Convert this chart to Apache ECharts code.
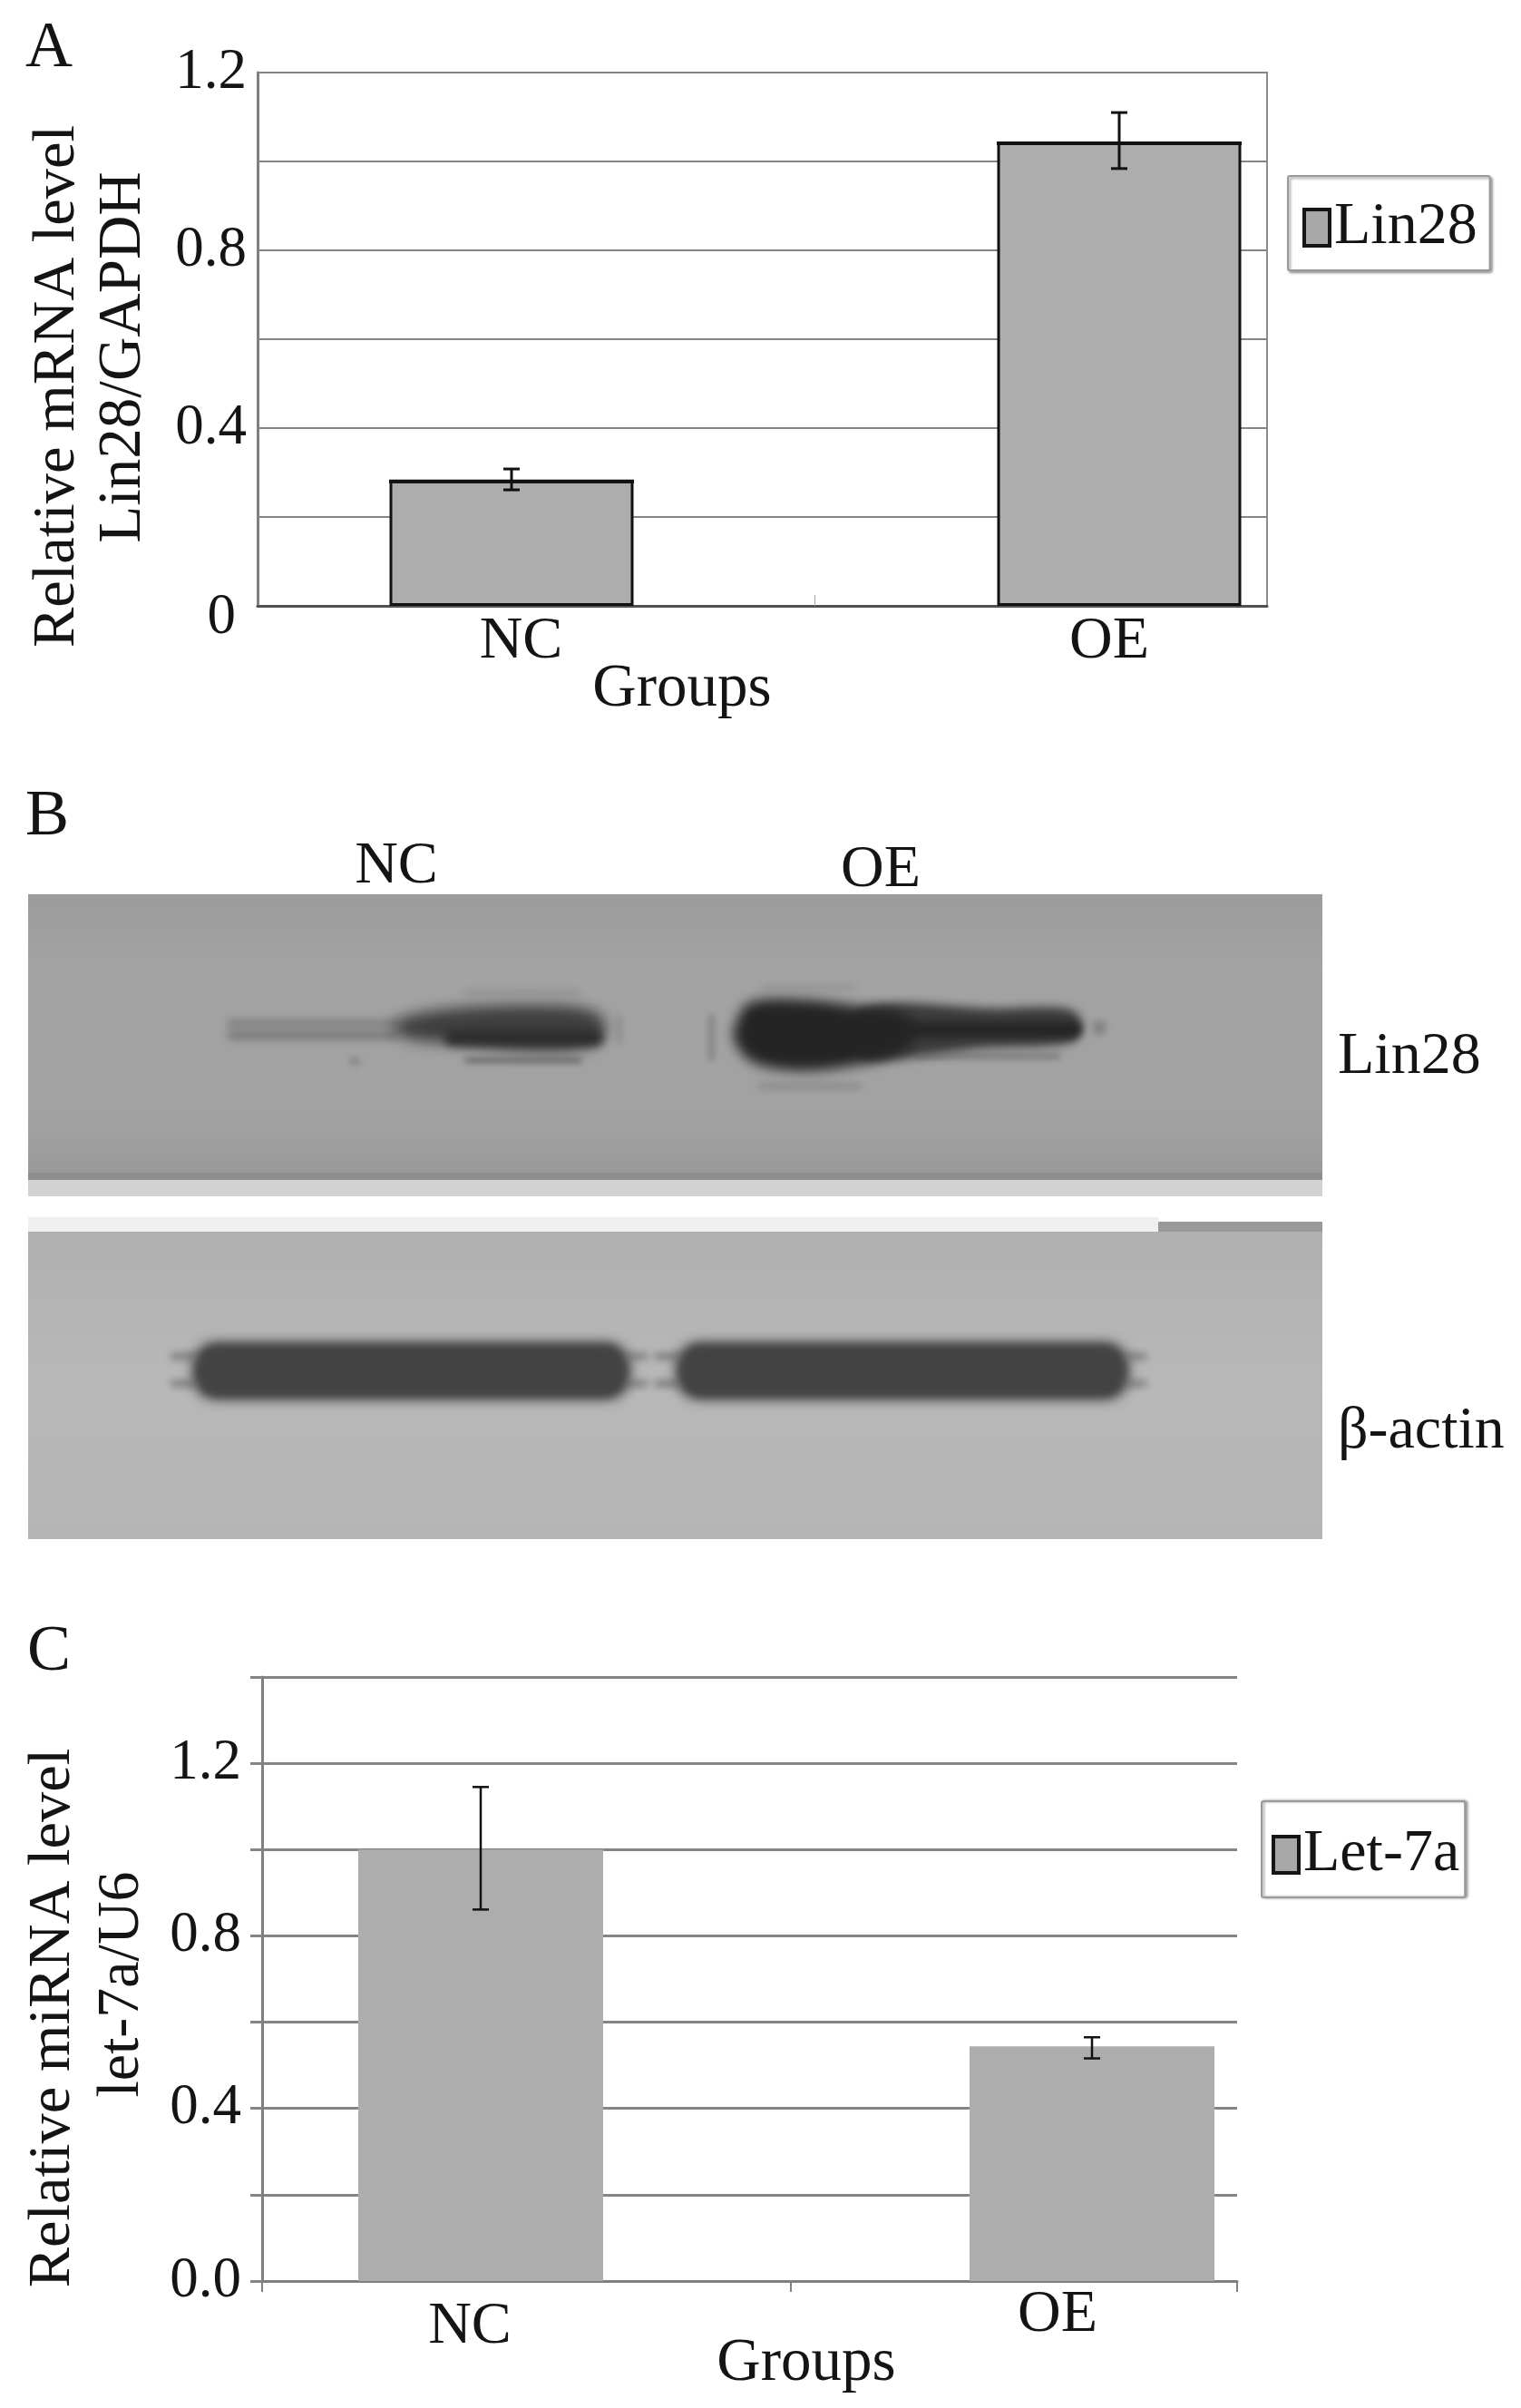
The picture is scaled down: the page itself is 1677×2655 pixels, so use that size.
<!DOCTYPE html>
<html>
<head>
<meta charset="utf-8">
<style>html,body{margin:0;padding:0;background:#fff}#c{width:1677px;height:2655px}</style>
<script src="https://cdn.jsdelivr.net/npm/echarts@6/dist/echarts.min.js"></script>
</head>
<body>
<div id="c"></div>
<script>
// ---- Data ----
const groups = ['NC', 'OE'];
const lin28Values = [0.282, 1.043];
const lin28ErrLow = [0.261, 0.984];
const lin28ErrHigh = [0.308, 1.110];
const let7aValues = [1.0, 0.544];
const let7aErrLow = [0.861, 0.516];
const let7aErrHigh = [1.145, 0.565];
const ticksA = ['0', '', '0.4', '', '0.8', '', '1.2'];
const ticksC = ['0.0', '', '0.4', '', '0.8', '', '1.2', ''];
const SERIF = '"Liberation Serif","Times New Roman",serif';
const INK = '#141414';

function T(text, x, y, size, opt) {
  return Object.assign({
    type: 'text', x, y, silent: true,
    style: { text, fill: INK, font: size + 'px ' + SERIF, textAlign: 'center', textVerticalAlign: 'middle' }
  }, opt || {});
}
function rotT(text, x, y, size) { return T(text, x, y, size, { rotation: Math.PI / 2 }); }

// Soft blot shapes: the solid shape sits off-canvas, only its blurred shadow lands on the panel.
const FAR = 4000;
function blob(x, y, w, h, fill, blur, r) {
  return { type: 'rect', silent: true,
    shape: { x: x - FAR, y, width: w, height: h, r: r === undefined ? h / 2 : r },
    style: { fill: '#000', shadowColor: fill, shadowBlur: blur, shadowOffsetX: FAR } };
}
function poly(points, fill, blur) {
  return { type: 'polygon', silent: true, shape: { points: points.map(p => [p[0] - FAR, p[1]]), smooth: 0.35 },
    style: { fill: '#000', shadowColor: fill, shadowBlur: blur, shadowOffsetX: FAR } };
}
function vGrad(stops) {
  return { type: 'linear', x: 0, y: 0, x2: 0, y2: 1, colorStops: stops };
}
const actin = (x0, w) => [
  blob(x0, 1480, w, 63, 'rgba(66,66,66,1)', 14, 26),
  blob(x0 + 6, 1484, w - 12, 55, 'rgba(66,66,66,.9)', 10, 24),
  blob(x0 - 24, 1492, 30, 7, 'rgba(95,95,95,.75)', 9),
  blob(x0 - 24, 1522, 30, 7, 'rgba(95,95,95,.75)', 9),
  blob(x0 + w - 6, 1492, 26, 7, 'rgba(95,95,95,.7)', 9),
  blob(x0 + w - 6, 1522, 26, 7, 'rgba(95,95,95,.7)', 9)
];
const blot = [
  { type: 'rect', silent: true, shape: { x: 31, y: 986, width: 1427, height: 312 },
    style: { fill: vGrad([{ offset: 0, color: '#9b9b9b' }, { offset: 0.25, color: '#a3a3a3' }, { offset: 0.8, color: '#a2a2a2' }, { offset: 1, color: '#999999' }]) } },
  { type: 'rect', silent: true, shape: { x: 31, y: 1293, width: 1427, height: 8 }, style: { fill: '#8e8e8e' } },
  { type: 'rect', silent: true, shape: { x: 31, y: 1301, width: 1427, height: 18 }, style: { fill: '#d2d2d2' } },
  { type: 'rect', silent: true, shape: { x: 31, y: 1342, width: 1246, height: 16 }, style: { fill: '#efefef' } },
  { type: 'rect', silent: true, shape: { x: 1277, y: 1347, width: 181, height: 11 }, style: { fill: '#999999' } },
  { type: 'rect', silent: true, shape: { x: 31, y: 1358, width: 1427, height: 339 },
    style: { fill: vGrad([{ offset: 0, color: '#b0b0b0' }, { offset: 0.5, color: '#b8b8b8' }, { offset: 1, color: '#b5b5b5' }]) } },
  // Lin28, NC lane
  blob(250, 1124, 190, 9, 'rgba(110,110,110,.7)', 10),
  blob(250, 1137, 190, 9, 'rgba(105,105,105,.8)', 10),
  poly([[436, 1126], [500, 1112], [620, 1109], [660, 1118], [668, 1135], [656, 1152], [600, 1159], [500, 1151], [440, 1142]], 'rgba(62,62,62,1)', 16),
  blob(490, 1136, 175, 17, 'rgba(42,42,42,.9)', 10),
  blob(512, 1166, 130, 6, 'rgba(90,90,90,.8)', 7),
  blob(510, 1092, 130, 4, 'rgba(125,125,125,.7)', 9),
  blob(384, 1165, 14, 10, 'rgba(125,125,125,.6)', 7),
  blob(680, 1118, 6, 34, 'rgba(120,120,120,.5)', 7),
  // Lin28, OE lane
  poly([[950, 1112], [1100, 1112], [1180, 1113], [1194, 1132], [1180, 1150], [1080, 1156], [985, 1168], [950, 1164]], 'rgba(58,58,58,1)', 11),
  blob(960, 1127, 232, 17, 'rgba(36,36,36,.95)', 8),
  poly([[810, 1132], [826, 1106], [880, 1102], [950, 1110], [995, 1118], [1010, 1140], [990, 1162], [920, 1178], [870, 1180], [828, 1170], [810, 1148]], 'rgba(36,36,36,1)', 14),
  blob(1010, 1162, 160, 5, 'rgba(100,100,100,.8)', 7),
  blob(835, 1195, 115, 5, 'rgba(115,115,115,.7)', 8),
  blob(840, 1086, 105, 5, 'rgba(130,130,130,.6)', 9),
  blob(781, 1118, 7, 52, 'rgba(110,110,110,.55)', 7),
  blob(1205, 1125, 14, 16, 'rgba(110,110,110,.7)', 8)
].concat(actin(212, 483)).concat(actin(745, 500));

const graphics = [
  T('A', 54, 54, 72), T('B', 52, 901, 72), T('C', 54, 1822, 72),
  rotT('Relative mRNA level', 64, 426, 66.5),
  rotT('Lin28/GAPDH', 136, 394, 67),
  T('Groups', 752, 760, 67),
  rotT('Relative miRNA level', 59, 2225, 66.5),
  rotT('let-7a/U6', 135, 2188, 66),
  T('Groups', 889, 2606, 67)
].concat(blot).concat([
  T('NC', 437, 956, 66), T('OE', 971, 960, 66),
  T('Lin28', 1475, 1166, 66, { style: { text: 'Lin28', fill: INK, font: '66px ' + SERIF, textAlign: 'left', textVerticalAlign: 'middle' } }),
  T('β-actin', 1475, 1579, 66, { style: { text: 'β-actin', fill: INK, font: '66px ' + SERIF, textAlign: 'left', textVerticalAlign: 'middle' } })
]);

function errorSeries(name, low, high, xIdx, yIdx, capHalf, lw) {
  return {
    type: 'custom', name, xAxisIndex: xIdx, yAxisIndex: yIdx, z: 5, silent: true,
    data: groups.map((g, i) => [i, low[i], high[i]]),
    renderItem(params, api) {
      const a = api.coord([api.value(0), api.value(1)]);
      const b = api.coord([api.value(0), api.value(2)]);
      const st = { stroke: '#111', lineWidth: lw, fill: 'none' };
      return { type: 'group', children: [
        { type: 'line', shape: { x1: a[0], y1: a[1], x2: b[0], y2: b[1] }, style: st },
        { type: 'line', shape: { x1: a[0] - capHalf, y1: a[1], x2: a[0] + capHalf, y2: a[1] }, style: st },
        { type: 'line', shape: { x1: b[0] - capHalf, y1: b[1], x2: b[0] + capHalf, y2: b[1] }, style: st }
      ] };
    }
  };
}
// heavier top edge of the bars in panel A
function topEdgeSeries(values, xIdx, yIdx, halfWidth) {
  return {
    type: 'custom', name: 'Lin28 top edge', xAxisIndex: xIdx, yAxisIndex: yIdx, z: 4, silent: true,
    data: values.map((v, i) => [i, v]),
    renderItem(params, api) {
      const p = api.coord([api.value(0), api.value(1)]);
      return { type: 'line', shape: { x1: p[0] - halfWidth, y1: p[1] + 1, x2: p[0] + halfWidth, y2: p[1] + 1 },
        style: { stroke: '#111', lineWidth: 4, fill: 'none' } };
    }
  };
}

function catAxis(gridIndex, fmt, rich, margin) {
  return {
    type: 'category', gridIndex, data: groups,
    axisLine: { show: false }, axisTick: { show: false }, splitLine: { show: false },
    axisLabel: { interval: 0, margin, color: INK, fontFamily: SERIF, fontSize: 66, formatter: fmt, rich }
  };
}
const labelBase = { color: INK, fontFamily: SERIF, fontSize: 66 };

const option = {
  backgroundColor: '#fff',
  animation: false,
  graphic: { elements: graphics },
  grid: [
    { left: 284, top: 80, width: 1113, height: 588, show: true, borderColor: '#8a8a8a', borderWidth: 2 },
    { left: 229, top: 80, width: 1340, height: 588 },
    { left: 289, top: 1849, width: 1075, height: 666 },
    { left: 193, top: 1849, width: 1348, height: 666 }
  ],
  xAxis: [
    { type: 'value', gridIndex: 0, min: 0, max: 1, splitLine: { show: false }, axisLabel: { show: false },
      axisLine: { lineStyle: { color: '#505050', width: 3 } },
      axisTick: { show: true, inside: true, length: 12, customValues: [0.552], lineStyle: { color: '#a8a8a8', width: 1 } } },
    catAxis(1, v => v === 'NC' ? '{a|NC}' : '{b|OE}', {
      a: Object.assign({ padding: [0, 0, 0, 21] }, labelBase),
      b: Object.assign({ padding: [0, 22, 0, 0] }, labelBase) }, 7),
    { type: 'value', gridIndex: 2, min: 0, max: 1, splitLine: { show: false }, axisLabel: { show: false },
      axisLine: { lineStyle: { color: '#808080', width: 3 } },
      axisTick: { show: true, length: 12, customValues: [0, 0.542, 1], lineStyle: { color: '#808080', width: 2 } } },
    catAxis(3, v => v === 'NC' ? '{a|NC}' : '{b|OE}', {
      a: Object.assign({ padding: [13, 24, 0, 0] }, labelBase),
      b: Object.assign({ padding: [0, 76, 0, 0] }, labelBase) }, 5)
  ],
  yAxis: [
    { type: 'value', gridIndex: 0, min: 0, max: 1.2, interval: 0.2,
      axisLine: { show: true, lineStyle: { color: '#808080', width: 3 } }, axisTick: { show: false },
      splitLine: { show: true, lineStyle: { color: '#858585', width: 2 } },
      axisLabel: { margin: 12, color: INK, fontFamily: SERIF, fontSize: 63,
        formatter: v => { const s = ticksA[Math.round(v / 0.2)]; return s === '0' ? '{z|0}' : s; },
        rich: { z: { color: INK, fontFamily: SERIF, fontSize: 63, padding: [26, 12, 0, 0] } } } },
    { type: 'value', gridIndex: 1, min: 0, max: 1.2, show: false, splitLine: { show: false } },
    { type: 'value', gridIndex: 2, min: 0, max: 1.4, interval: 0.2,
      axisLine: { show: true, lineStyle: { color: '#808080', width: 3 } },
      axisTick: { show: true, length: 13, lineStyle: { color: '#858585', width: 3 } },
      splitLine: { show: true, lineStyle: { color: '#858585', width: 3 } },
      axisLabel: { margin: 23, color: INK, fontFamily: SERIF, fontSize: 63,
        formatter: v => ticksC[Math.round(v / 0.2)] } },
    { type: 'value', gridIndex: 3, min: 0, max: 1.4, show: false, splitLine: { show: false } }
  ],
  legend: [
    { data: ['Lin28'], left: 1420, top: 194, orient: 'vertical', icon: 'rect', selectedMode: false,
      padding: [24, 14, 14, 16], itemWidth: 28, itemHeight: 40,
      backgroundColor: '#fff', borderColor: '#9a9a9a', borderWidth: 2, borderRadius: 2,
      shadowColor: 'rgba(90,90,90,.6)', shadowBlur: 3, shadowOffsetX: 2, shadowOffsetY: 2,
      itemStyle: { color: '#a8a8a8', borderColor: '#151515', borderWidth: 4 },
      textStyle: { color: INK, fontFamily: SERIF, fontSize: 66 } },
    { data: ['Let-7a'], left: 1391, top: 1986, orient: 'vertical', icon: 'rect', selectedMode: false,
      padding: [26, 6, 14, 11], itemWidth: 28, itemHeight: 40,
      backgroundColor: '#fff', borderColor: '#9a9a9a', borderWidth: 2, borderRadius: 2,
      shadowColor: 'rgba(90,90,90,.6)', shadowBlur: 3, shadowOffsetX: 2, shadowOffsetY: 0,
      itemStyle: { color: '#a8a8a8', borderColor: '#151515', borderWidth: 4 },
      textStyle: { color: INK, fontFamily: SERIF, fontSize: 66 } }
  ],
  series: [
    { type: 'bar', name: 'Lin28', xAxisIndex: 1, yAxisIndex: 1, data: lin28Values, barWidth: 269, z: 3, silent: true,
      itemStyle: { color: '#adadad', borderColor: '#111', borderWidth: 3 } },
    topEdgeSeries(lin28Values, 1, 1, 135),
    errorSeries('Lin28 error', lin28ErrLow, lin28ErrHigh, 1, 1, 9, 3),
    { type: 'bar', name: 'Let-7a', xAxisIndex: 3, yAxisIndex: 3, data: let7aValues, barWidth: 270, z: 3, silent: true,
      itemStyle: { color: '#adadad' } },
    errorSeries('Let-7a error', let7aErrLow, let7aErrHigh, 3, 3, 9, 2.5)
  ]
};
const chart = echarts.init(document.getElementById('c'), null, { renderer: 'canvas', width: 1677, height: 2655 });
chart.setOption(option);
</script>
</body>
</html>
